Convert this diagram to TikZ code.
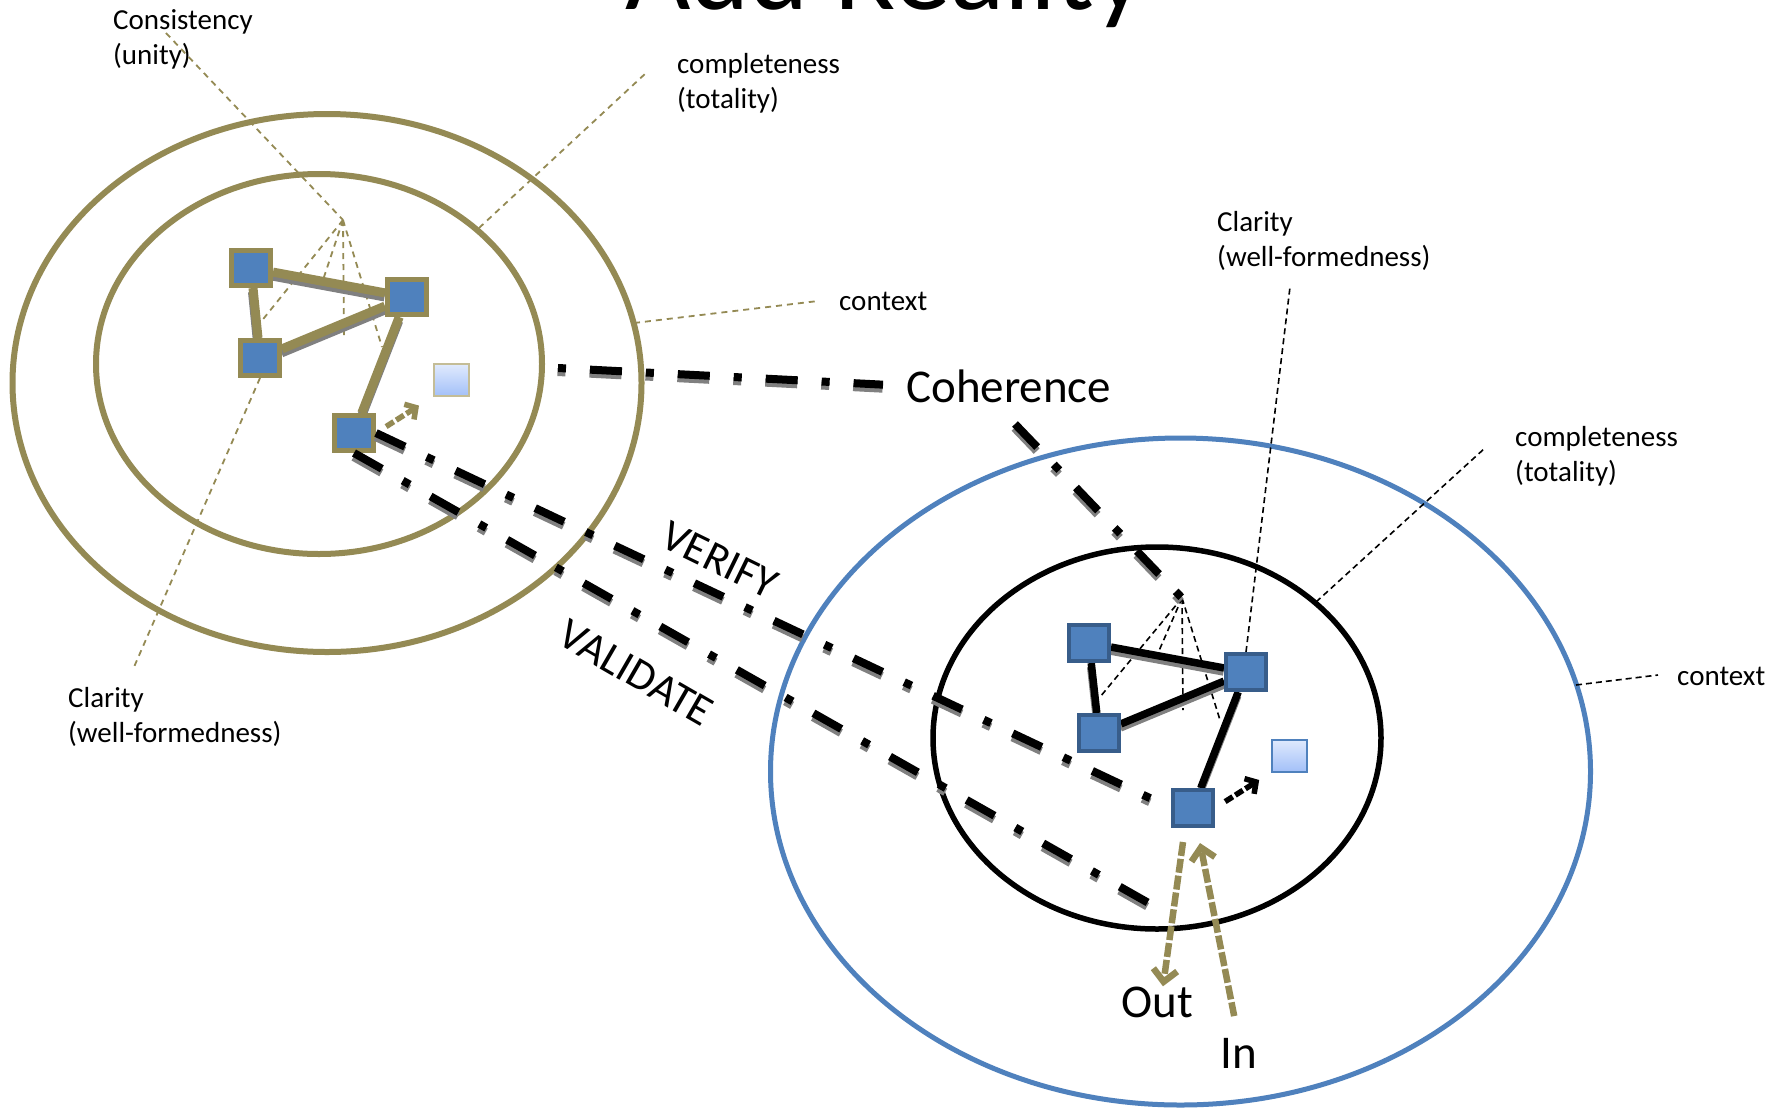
\documentclass[tikz,border=0pt]{standalone}
\usepackage{fontspec}
\setmainfont{Carlito}
\usetikzlibrary{arrows.meta}
\definecolor{gold}{HTML}{948A54}
\definecolor{obl}{HTML}{4F81BD}
\definecolor{obld}{HTML}{385D8A}
\definecolor{lbtop}{HTML}{E0EAFD}
\definecolor{lbbot}{HTML}{A3C0F8}
\definecolor{shd}{gray}{0.5}
\definecolor{lgold}{HTML}{C4BD97}
\newcommand\shdraw[2]{\draw[#1, draw=shd, transform canvas={shift={(-0.5pt,-4pt)}}] #2; \draw[#1] #2;}
\tikzset{
  lsq/.style={draw=gold, fill=obl, line width=5pt, minimum width=39pt, minimum height=35pt, inner sep=0pt},
  rsq/.style={draw=obld, fill=obl, line width=4pt, minimum width=40pt, minimum height=36pt, inner sep=0pt},
  lightsq/.style={line width=2pt, top color=lbtop, bottom color=lbbot, minimum width=35pt, minimum height=32pt, inner sep=0pt},
  goldlink/.style={draw=gold, line width=9pt},
  blacklink/.style={draw=black, line width=7.5pt},
  ddline/.style={draw=black, line width=8pt, dash pattern=on 32pt off 24pt on 8pt off 24pt},
  dotfirst/.style={dash pattern=on 8pt off 24pt on 32pt off 24pt},
  goldlead/.style={draw=gold, line width=1.8pt, dash pattern=on 6pt off 5pt},
  blacklead/.style={draw=black, line width=1.6pt, dash pattern=on 6pt off 4pt},
  lab/.style={font=\fontsize{29}{35}\selectfont, align=left, anchor=north west, inner sep=0pt},
  labone/.style={font=\fontsize{29}{35}\selectfont, anchor=base west, inner sep=0pt},
  big/.style={font=\fontsize{47}{56}\selectfont, anchor=base west, inner sep=0pt},
  slant/.style={font=\fontsize{44}{52}\selectfont, inner sep=0pt},
  iotip/.style={-{Straight Barb[length=12pt,width=24pt]}, line width=6.5pt, dash pattern=on 14pt off 3pt, draw=gold},
  smalltip/.style={-{Straight Barb[length=8pt,width=18pt]}, line width=5.5pt, dash pattern=on 9pt off 3pt},
}
\begin{document}
\begin{tikzpicture}[x=1pt,y=-1pt]
\fill[white] (0,0) rectangle (1787,1109);
\useasboundingbox (0,0) rectangle (1787,1109);
% title
\node[font=\fontsize{113}{130}\selectfont, anchor=base west, inner sep=0pt] (title) at (625,9) {Add Reality};
% ellipses
\draw[gold, line width=6pt] (327,383) ellipse [x radius=314.5, y radius=269];
\draw[gold, line width=6pt] (319,364) ellipse [x radius=223, y radius=190];
\draw[obl, line width=5pt] (1180.5,771.5) ellipse [x radius=410, y radius=333.5];
\draw[black, line width=5.5pt] (1157,738) ellipse [x radius=224, y radius=191];
% coordinates
\coordinate (lapex) at (343,220);
\coordinate (rapex) at (1182,598);
\coordinate (la1) at (260,323);
\coordinate (la2) at (322,283);
\coordinate (la3) at (344,335);
\coordinate (la4) at (382,347);
\coordinate (ra1) at (1100,697);
\coordinate (ra2) at (1158,653);
\coordinate (ra3) at (1183,710);
\coordinate (ra4) at (1220,720);
\coordinate (consend) at (166,33);
\coordinate (compLend) at (646,73);
\coordinate (compLstart) at (479,228);
\coordinate (ctxLend) at (818,301);
\coordinate (ctxLstart) at (634,323);
\coordinate (clarLend) at (134,667);
\coordinate (clarRend) at (1290,287);
\coordinate (compRend) at (1485,448);
\coordinate (compRstart) at (1316,602);
\coordinate (ctxRend) at (1658,675);
\coordinate (ctxRstart) at (1576,685);
\coordinate (cohstart) at (558,368);
\coordinate (cohdown) at (1015,424);
\coordinate (validend) at (1168,914);
\coordinate (outstart) at (1183,842);
\coordinate (intip) at (1200,843);
% labels
\node[lab] (cons) at (113,4.5) {\strut Consistency\\(unity)};
\node[lab] (compL) at (677,48.5) {\strut completeness\\(totality)};
\node[labone] (ctxL) at (839,310) {context};
\node[lab] (clarL) at (68,682.5) {\strut Clarity\\(well-formedness)};
\node[lab] (clarR) at (1217,206.5) {\strut Clarity\\(well-formedness)};
\node[lab] (compR) at (1515,421.5) {\strut completeness\\(totality)};
\node[labone] (ctxR) at (1677,685) {context};
\node[big] (coh) at (906,402) {Coherence};
\node[big] (outlab) at (1121,1017) {Out};
\node[big] (inlab) at (1220,1068) {In};
\node[slant, rotate=-26] (verify) at (720,560) {VERIFY};
\node[slant, rotate=-30] (validate) at (636,673) {VALIDATE};
% squares
\node[lsq] (lA) at (251,268) {};
\node[lsq] (lB) at (407,297) {};
\node[lsq] (lC) at (260,358) {};
\node[lsq] (lD) at (354,433) {};
\node[lightsq, draw=lgold] (lE) at (451,380) {};
\node[rsq] (rA) at (1089,643) {};
\node[rsq] (rB) at (1246,672) {};
\node[rsq] (rC) at (1099,733) {};
\node[rsq] (rD) at (1193,808) {};
\node[lightsq, draw=obl] (rE) at (1289.5,755.5) {};
% leaders left
\draw[goldlead] (consend) -- (lapex);
\foreach \e in {la1,la2,la3,la4} \draw[goldlead] (lapex) -- (\e);
\draw[goldlead] (lC.south) -- (clarLend);
\draw[goldlead] (compLstart) -- (compLend);
\draw[goldlead] (ctxLstart) -- (ctxLend);
% leaders right
\foreach \e in {ra1,ra2,ra3,ra4} \draw[blacklead] (rapex) -- (\e);
\draw[blacklead] (rB.north) -- (clarRend);
\draw[blacklead] (compRstart) -- (compRend);
\draw[blacklead] (ctxRstart) -- (ctxRend);
% links left
\shdraw{goldlink}{(lA) -- (lB)}
\shdraw{goldlink}{(lA) -- (lC)}
\shdraw{goldlink}{(lC) -- (lB)}
\shdraw{goldlink}{(lB) -- (lD)}
% links right
\shdraw{blacklink}{(rA) -- (rB)}
\shdraw{blacklink}{(rA) -- (rC)}
\shdraw{blacklink}{(rC) -- (rB)}
\shdraw{blacklink}{(rB) -- (rD)}
% redraw squares on top
\node[lsq] at (lA) {};
\node[lsq] at (lB) {};
\node[lsq] at (lC) {};
\node[lsq] at (lD) {};
\node[rsq] at (rA) {};
\node[rsq] at (rB) {};
\node[rsq] at (rC) {};
\node[rsq] at (rD) {};
% dash-dot lines
\shdraw{ddline, dotfirst, shorten >=23pt}{(cohstart) -- (coh.west)}
\shdraw{ddline}{(cohdown) -- (rapex)}
\shdraw{ddline}{(lD.east) -- (rD.west)}
\shdraw{ddline}{(lD.south) -- (validend)}
% small arrows
\draw[smalltip, draw=gold, shorten <=12pt, shorten >=16pt] (lD.east) -- (lE.south west);
\draw[smalltip, draw=black, shorten <=12pt, shorten >=14pt] (rD.east) -- (rE.south west);
% in / out
\draw[iotip] (outstart) -- ([xshift=6pt]outlab.north);
\draw[iotip, shorten <=22pt] (inlab.north) -- (intip);
\end{tikzpicture}
\end{document}
